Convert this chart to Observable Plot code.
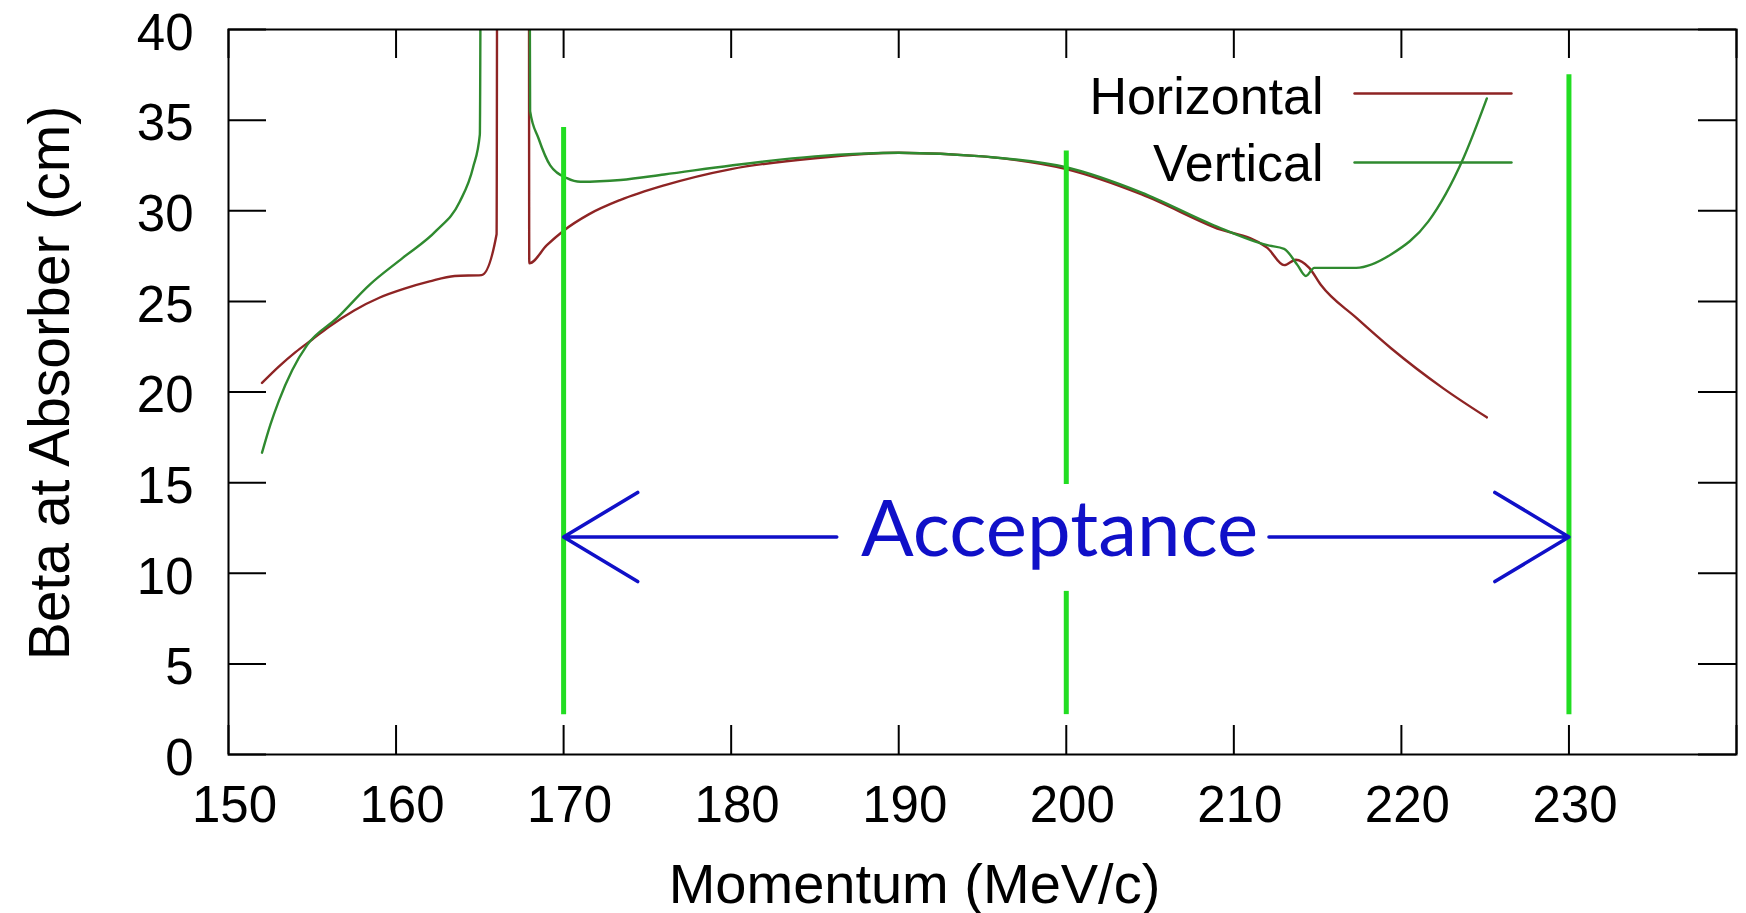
<!DOCTYPE html>
<html><head><meta charset="utf-8">
<script src="https://cdn.jsdelivr.net/npm/d3@7"></script>
<script src="https://cdn.jsdelivr.net/npm/@observablehq/plot@0.6"></script>
<style>body{margin:0;background:#fff}#chart{width:1746px;height:913px}</style>
</head><body><div id="chart"></div>
<script>
// Horizontal beta (values above 40 are off-scale spikes, clipped)
const horizontalMomentum = [152.0,153.0,154.0,155.0,156.0,157.5,159.0,160.5,162.0,163.5,165.1,166.0,166.1,167.9,167.95,169.0,170.0,171.5,173.4,176.0,180.0,185.0,190.0,195.0,200.0,204.5,208.8,212.0,213.0,213.7,214.5,215.2,217.3,219.4,222.5,225.1];
const horizontalBeta     = [20.5,21.4,22.2,22.9,23.6,24.5,25.2,25.7,26.1,26.4,26.45,28.7,100,100,27.1,28.1,28.9,29.8,30.6,31.4,32.3,32.9,33.2,33.0,32.3,30.9,29.1,27.95,27.0,27.3,26.85,25.9,24.1,22.4,20.2,18.6];
// Vertical beta
const verticalMomentum = [152.0,152.5,153.0,153.8,154.7,156.5,158.4,160.4,162.4,163.8,164.6,165.0,165.2,167.8,168.0,168.5,169.2,170.2,171.0,173.4,176.0,180.0,185.0,190.0,195.0,200.0,204.5,208.8,212.0,213.0,213.8,214.3,214.8,217.3,219.4,221.6,223.7,225.1];
const verticalBeta     = [16.65,18.2,19.5,21.2,22.6,24.1,25.9,27.4,28.9,30.5,32.4,34.2,100,100,35.5,34.0,32.5,31.8,31.6,31.7,32.0,32.5,33.0,33.2,33.0,32.4,31.0,29.2,28.1,27.9,27.0,26.4,26.85,26.85,27.6,29.4,32.9,36.2];

const seriesNames  = ["Horizontal", "Vertical"];
const seriesColors = ["#8e2424", "#2f8a2f"];

const xTicks = [150,160,170,180,190,200,210,220,230,240];
const xTickLabels = [150,160,170,180,190,200,210,220,230];
const yTicks = [0,5,10,15,20,25,30,35,40];

// Acceptance markers (bright green verticals)
const markerX      = [170, 200, 200, 230];
const markerBottom = [2.2, 2.2, 14.9, 2.2];
const markerTop    = [34.6, 9.0, 33.3, 37.5];

// Acceptance arrow (two halves around the label)
const arrowFrom = [186.3, 212.1];
const arrowTo   = [170, 230];
const arrowLevel = 12;
const acceptanceLabel = "Acceptance";
const acceptanceCenter = 199.6;

const xTitle = "Momentum (MeV/c)";
const yTitle = "Beta at Absorber (cm)";

const rows = [
  ...horizontalMomentum.map((m, i) => ({series: "Horizontal", momentum: m, beta: horizontalBeta[i]})),
  ...verticalMomentum.map((m, i) => ({series: "Vertical", momentum: m, beta: verticalBeta[i]}))
];
const markers = markerX.map((x, i) => ({x, y1: markerBottom[i], y2: markerTop[i]}));
const arrows = arrowFrom.map((x1, i) => ({x1, x2: arrowTo[i], y: arrowLevel}));

const lineShape = {draw(ctx, l) { ctx.moveTo(0, 0); ctx.lineTo(0, -l); }};
const legendDy = [[64, 68], [133, 135]];

const chart = Plot.plot({
  width: 1746, height: 913,
  marginLeft: 228, marginRight: 10, marginTop: 29, marginBottom: 159,
  style: {fontFamily: "Liberation Sans, Arial, sans-serif", background: "#fff", color: "#000"},
  x: {domain: [150, 240]},
  y: {domain: [0, 40]},
  color: {domain: seriesNames, range: seriesColors},
  marks: [
    Plot.line(rows, {x: "momentum", y: "beta", z: "series", stroke: "series", strokeWidth: 2.4, curve: "monotone-x", clip: true}),
    Plot.ruleX(markers, {x: "x", y1: "y1", y2: "y2", stroke: "#22dd22", strokeWidth: 5}),
    Plot.arrow(arrows, {x1: "x1", x2: "x2", y1: "y", y2: "y", stroke: "#1010c8", strokeWidth: 3.6, headLength: 36, headAngle: 62}),
    Plot.text([acceptanceLabel], {x: () => acceptanceCenter, y: () => arrowLevel, text: d => d, fill: "#1010c8", fontSize: 78, fontFamily: "Lato", lineAnchor: "bottom", dy: 19}),
    // inward ticks
    Plot.tickX(xTicks, {x: d => d, insetTop: 696, stroke: "#000", strokeWidth: 2}),
    Plot.tickX(xTicks, {x: d => d, insetBottom: 696, stroke: "#000", strokeWidth: 2}),
    Plot.tickY(yTicks, {y: d => d, insetRight: 1470, stroke: "#000", strokeWidth: 2}),
    Plot.tickY(yTicks, {y: d => d, insetLeft: 1470, stroke: "#000", strokeWidth: 2}),
    Plot.frame({stroke: "#000", strokeWidth: 2}),
    Plot.axisX(xTickLabels, {tickSize: 0, tickPadding: 31, fontSize: 51, dx: 6, label: null}),
    Plot.axisY(yTicks, {tickSize: 0, tickPadding: 35, fontSize: 51, dy: 4, label: null}),
    Plot.text([xTitle], {frameAnchor: "bottom", text: d => d, textAnchor: "middle", lineAnchor: "bottom", dx: -68, dy: 148, fontSize: 56}),
    Plot.text([yTitle], {frameAnchor: "left", text: d => d, rotate: -90, textAnchor: "middle", lineAnchor: "bottom", dx: -160, dy: -9, fontSize: 57}),
    ...seriesNames.flatMap((name, i) => [
      Plot.text([name], {frameAnchor: "top-right", text: d => d, textAnchor: "end", lineAnchor: "middle", dx: -413, dy: legendDy[i][1], fontSize: 52}),
      Plot.vector([name], {frameAnchor: "top-right", length: 157, rotate: 90, anchor: "start", shape: lineShape, stroke: seriesColors[i], strokeWidth: 2.4, dx: -382, dy: legendDy[i][0]})
    ])
  ]
});
document.getElementById("chart").appendChild(chart);
</script>
</body></html>
